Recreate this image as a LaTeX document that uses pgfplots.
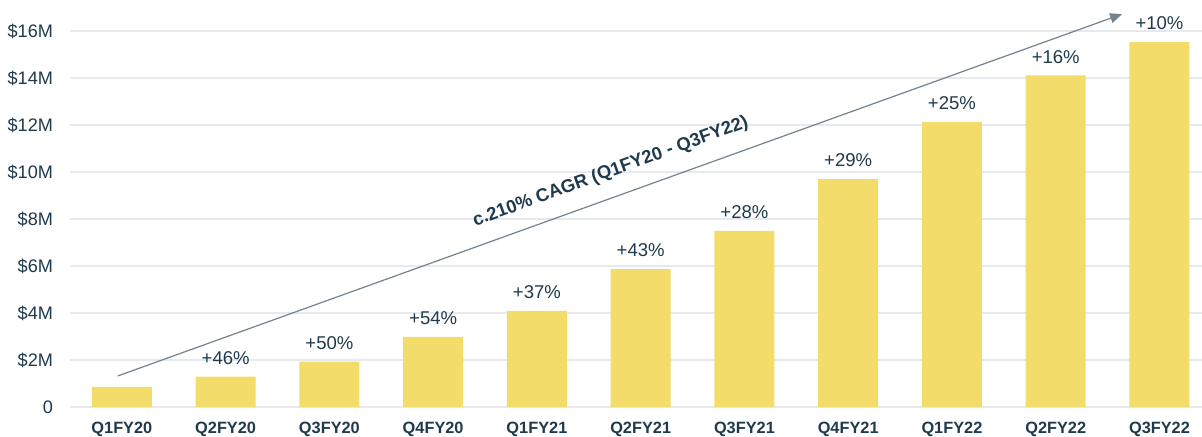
\documentclass[border=0pt]{standalone}
\usepackage{pgfplots}
\pgfplotsset{compat=1.18}
\usepackage{fontspec}
\setmainfont{Liberation Sans}
\usetikzlibrary{arrows.meta}
\definecolor{baryellow}{HTML}{F3DC6A}
\definecolor{navy}{HTML}{1E3A4C}
\definecolor{gridgray}{HTML}{E6E9ED}
\definecolor{arrowgray}{HTML}{74828E}
\begin{document}
\begin{tikzpicture}
\begin{axis}[
  at={(0,0)}, anchor=south west,
  scale only axis, width=566bp, height=188bp,
  xmin=-0.5, xmax=10.41, ymin=0, ymax=16,
  axis line style={draw=none},
  ytick={0,2,4,6,8,10,12,14,16},
  yticklabels={0,\$2M,\$4M,\$6M,\$8M,\$10M,\$12M,\$14M,\$16M},
  ymajorgrids, grid style={gridgray, line width=0.8bp},
  xtick={0,...,10},
  xticklabels={Q1FY20,Q2FY20,Q3FY20,Q4FY20,Q1FY21,Q2FY21,Q3FY21,Q4FY21,Q1FY22,Q2FY22,Q3FY22},
  major tick length=0pt,
  yticklabel style={font=\fontsize{9.1}{10}\selectfont, text=navy, xshift=-5bp},
  xticklabel style={font=\bfseries\fontsize{8.2}{10}\selectfont, text=navy, yshift=-4bp},
  clip=false,
  ybar, bar width=30bp,
  nodes near coords, point meta=explicit symbolic,
  every node near coord/.append style={font=\fontsize{9.3}{10}\selectfont, text=navy, yshift=2.5bp},
]
\addplot[fill=baryellow, draw=none] table[x=x, y=y, meta=lab] {
x y lab
0 0.86 {}
1 1.29 +46\%
2 1.93 +50\%
3 2.98 +54\%
4 4.09 +37\%
5 5.87 +43\%
6 7.49 +28\%
7 9.70 +29\%
8 12.13 +25\%
9 14.11 +16\%
10 15.53 +10\%
};
\draw[arrowgray, line width=0.6bp, -{Triangle[length=6bp,width=5bp]}] (axis cs:-0.04,1.32) -- (axis cs:9.64,16.72);
\node[rotate=20, font=\bfseries\fontsize{9.2}{10}\selectfont, text=navy] at (axis cs:4.71,10.0) {c.210\% CAGR (Q1FY20 - Q3FY22)};
\end{axis}
\pgfresetboundingbox
\path (-35bp,-15bp) rectangle (566bp,203.5bp);
\end{tikzpicture}
\end{document}
